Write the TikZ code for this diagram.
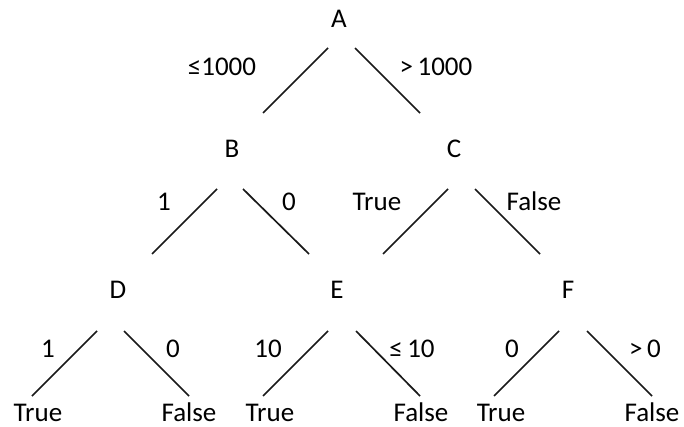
\documentclass[tikz,border=0pt]{standalone}
\usepackage{fontspec}
\setmainfont{Carlito}
\begin{document}
\begin{tikzpicture}[x=1pt,y={(0pt,-1pt)},
  lbl/.style={anchor=base,inner sep=0pt,text depth=0pt,font=\fontsize{27}{32}\selectfont},
  edge/.style={line width=1.7pt,black!90}]
\useasboundingbox (0,0) rectangle (684,427);
% tree nodes
\node[lbl] (A) at (339,28) {A};
\node[lbl] (B) at (232,158) {B};
\node[lbl] (C) at (454,158) {C};
\node[lbl] (D) at (118,298) {D};
\node[lbl] (E) at (337,298) {E};
\node[lbl] (F) at (568,298) {F};
\node[lbl] (T1) at (38,421) {True};
\node[lbl] (F1) at (189,421) {False};
\node[lbl] (T2) at (270,421) {True};
\node[lbl] (F2) at (421,421) {False};
\node[lbl] (T3) at (501,421) {True};
\node[lbl] (F3) at (652,421) {False};
% edge labels
\node[lbl] (lAB) at (222,76) {≤1000};
\node[lbl] (lAC) at (436,76) {>\,1000};
\node[lbl] (lBD) at (164,211) {1};
\node[lbl] (lBE) at (289,211) {0};
\node[lbl] (lCE) at (377,211) {True};
\node[lbl] (lCF) at (534,211) {False};
\node[lbl] (lD1) at (48,357) {1};
\node[lbl] (lD2) at (173,357) {0};
\node[lbl] (lE1) at (268,357) {10};
\node[lbl] (lE2) at (412,357) {≤\,10};
\node[lbl] (lF1) at (512,357) {0};
\node[lbl] (lF2) at (645,357) {>\,0};
% connector end points
\coordinate (AB1) at (328,48);  \coordinate (AB2) at (263,113);
\coordinate (AC1) at (355,48);  \coordinate (AC2) at (420,113);
\coordinate (BD1) at (217,189); \coordinate (BD2) at (152,254);
\coordinate (BE1) at (243,189); \coordinate (BE2) at (309,254);
\coordinate (CE1) at (448,189); \coordinate (CE2) at (383,254);
\coordinate (CF1) at (475,189); \coordinate (CF2) at (540,254);
\coordinate (DT1) at (97,331);  \coordinate (DT2) at (32,396);
\coordinate (DF1) at (124,331); \coordinate (DF2) at (189,396);
\coordinate (ET1) at (328,331); \coordinate (ET2) at (263,396);
\coordinate (EF1) at (356,331); \coordinate (EF2) at (420,396);
\coordinate (FT1) at (559,331); \coordinate (FT2) at (494,396);
\coordinate (FF1) at (587,331); \coordinate (FF2) at (652,396);
\draw[edge] (AB1) -- (AB2);
\draw[edge] (AC1) -- (AC2);
\draw[edge] (BD1) -- (BD2);
\draw[edge] (BE1) -- (BE2);
\draw[edge] (CE1) -- (CE2);
\draw[edge] (CF1) -- (CF2);
\draw[edge] (DT1) -- (DT2);
\draw[edge] (DF1) -- (DF2);
\draw[edge] (ET1) -- (ET2);
\draw[edge] (EF1) -- (EF2);
\draw[edge] (FT1) -- (FT2);
\draw[edge] (FF1) -- (FF2);
\end{tikzpicture}
\end{document}
